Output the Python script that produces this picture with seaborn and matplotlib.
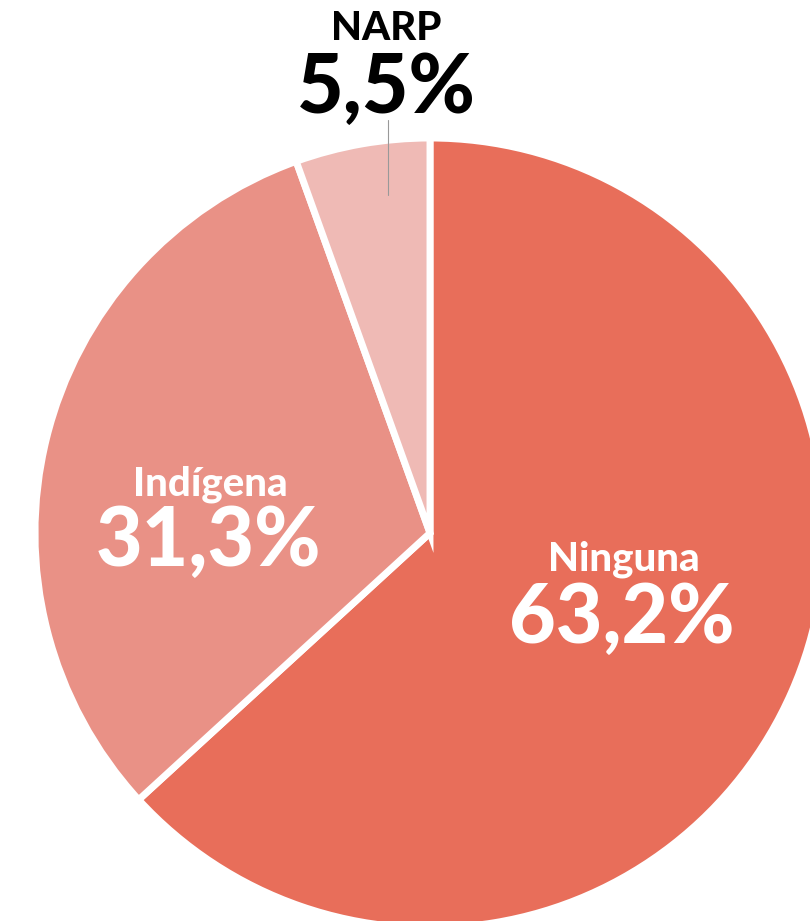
import matplotlib
matplotlib.use("Agg")
import matplotlib.pyplot as plt
import seaborn as sns

# data
categorias = ["Ninguna", "Indígena", "NARP"]
porcentajes = [63.2, 31.3, 5.5]
colores = ["#E86E5A", "#E99186", "#EFBAB5"]

sns.set_theme(style="white")
plt.rcParams["font.family"] = ["Lato", "DejaVu Sans"]

W, H = 810, 921
fig = plt.figure(figsize=(W / 100, H / 100), dpi=100)
ax = fig.add_axes([0, 0, 1, 1])

cx, cy, r = 430, H - 533, 395
wedges, _ = ax.pie(porcentajes, colors=colores, startangle=90, counterclock=False,
                   center=(cx, cy), radius=r,
                   wedgeprops=dict(edgecolor="white", linewidth=5, joinstyle="miter"))
ax.set_xlim(0, W)
ax.set_ylim(0, H)
ax.set_aspect("equal")
ax.axis("off")

def fmt(v):
    return f"{v:.1f}%".replace(".", ",")

# label positions (pixels from top-left)
pos = {
    "Ninguna": (624, 559, 622, 619, "white"),
    "Indígena": (210, 484, 208, 542, "white"),
    "NARP": (386, 29, 386, 89, "black"),
}
for cat, val in zip(categorias, porcentajes):
    nx, ny, vx, vy, c = pos[cat]
    ax.text(nx, H - ny, cat, ha="center", va="center", color=c,
            fontsize=29, fontweight="black")
    ax.text(vx, H - vy, fmt(val), ha="center", va="center", color=c,
            fontsize=58, fontweight="black")

# leader line for NARP
ax.plot([388, 388], [H - 120, H - 195], color="#999999", lw=0.8)

fig.savefig("out.png", dpi=100)
